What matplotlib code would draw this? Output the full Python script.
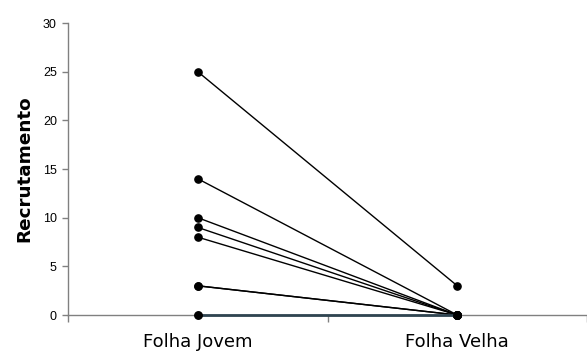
import matplotlib
matplotlib.use("Agg")
import matplotlib.pyplot as plt

categories = ["Folha Jovem", "Folha Velha"]
jovem = [25, 14, 10, 9, 8, 3, 3, 0]
velha = [3, 0, 0, 0, 0, 0, 0, 0]
yticks = [0, 5, 10, 15, 20, 25, 30]

fig = plt.figure(figsize=(5.87, 3.53), dpi=100)
ax = fig.add_axes([68/587, 38/353, 1 - 68/587, (315 - 23)/353])

xpos = [1, 2]
for j, v in zip(jovem, velha):
    if j == 0 and v == 0:
        ax.plot(xpos, [j, v], color="#2f4450", lw=2.0, zorder=3, clip_on=False)
        ax.plot(xpos, [j, v], ls="none", marker="o", ms=5.4, mfc="black",
                mec="black", zorder=4, clip_on=False)
    else:
        ax.plot(xpos, [j, v], color="black", lw=1.0, marker="o", ms=5.2,
                mfc="black", mec="black", zorder=3, clip_on=False)

ax.set_xlim(0.5, 2.5)
ax.set_ylim(0, 30)
ax.set_yticks(yticks)
ax.set_yticklabels([str(t) for t in yticks], fontfamily="Liberation Sans", fontsize=9)
ax.set_xticks([0.5, 1.5, 2.5])
ax.set_xticklabels([])
ax.set_xticks(xpos, minor=True)
ax.set_xticklabels(categories, minor=True, fontfamily="DejaVu Sans", fontsize=13)
ax.tick_params(axis="x", which="minor", length=0, pad=13)
ax.tick_params(axis="x", which="major", length=5, color="#808080", width=1)
ax.tick_params(axis="y", length=4, color="#808080", width=1, pad=4)

for s in ["top", "right"]:
    ax.spines[s].set_visible(False)
for s in ["left", "bottom"]:
    ax.spines[s].set_color("#808080")
    ax.spines[s].set_linewidth(1.0)

ax.set_ylabel("Recrutamento", fontfamily="DejaVu Sans", fontweight="bold",
              fontsize=13.2, labelpad=7)

fig.savefig("out.png", dpi=100)
